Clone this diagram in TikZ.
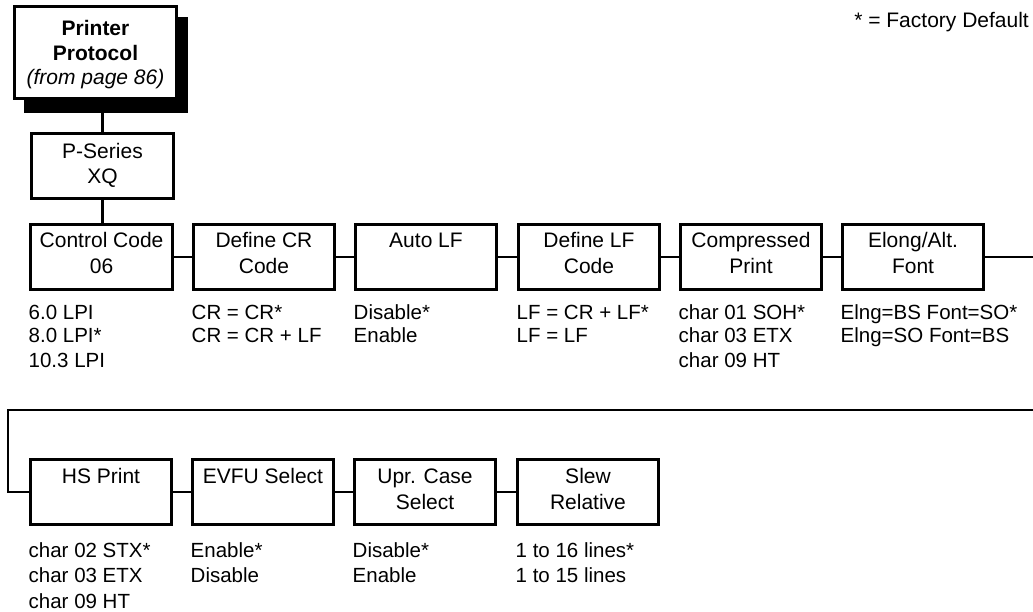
\documentclass[tikz,border=0pt]{standalone}
\usepackage{fontspec}
\setmainfont{Liberation Sans}
\newcommand\stkc[1]{\begin{tabular}[t]{@{}c@{}}#1\end{tabular}}
\newcommand\stkl[1]{\begin{tabular}[t]{@{}l@{}}#1\end{tabular}}
\begin{document}
\begin{tikzpicture}[x=1pt,y=-1pt,
  box/.style={draw, line width=3pt, minimum width=141.5pt, minimum height=65pt, inner sep=0pt},
  link/.style={line width=2.6pt},
  btext/.style={anchor=base, inner sep=0pt, font=\fontsize{21}{25}\selectfont},
  btexttwo/.style={anchor=base, inner sep=0pt, font=\fontsize{21}{26.5}\selectfont},
  opt/.style={anchor=base west, inner sep=0pt, font=\fontsize{20.5}{24}\selectfont},
  opttwo/.style={anchor=base west, inner sep=0pt, font=\fontsize{20.5}{25.5}\selectfont}]
\useasboundingbox (0,0) rectangle (1033,612);

% legend
\node[anchor=base east, inner sep=0pt, font=\fontsize{21}{25}\selectfont] (legend) at (1029,28) {* = Factory Default};

% top box with shadow
\fill[black] (24,17) rectangle (188,113);
\node[box, fill=white, minimum width=162pt, minimum height=92pt] (proto) at (95.5,52.5) {};
\node[anchor=base, inner sep=0pt, font=\fontsize{21}{24.4}\selectfont] (protot) at (95.5,36)
  {\stkc{\bfseries Printer\\\bfseries Protocol\\\itshape (from page 86)}};

% P-Series
\node[box] (ps) at (102.5,166.5) {};
\node[btext] (pst) at (102.5,158.5) {\stkc{P-Series\\XQ}};

% row 1 boxes
\node[box] (cc)  at (101.6,257) {};
\node[box] (dcr) at (264,257) {};
\node[box] (alf) at (426,257) {};
\node[box] (dlf) at (589,257) {};
\node[box] (cp)  at (751,257) {};
\node[box] (el)  at (913,257) {};
\node[btext] (cct)  at (101.6,248) {\stkc{Control Code\\06}};
\node[btext] (dcrt) at (264,248) {\stkc{Define CR\\Code}};
\node[btext] (alft) at (426,248) {\stkc{Auto LF}};
\node[btext] (dlft) at (589,248) {\stkc{Define LF\\Code}};
\node[btext] (cpt)  at (751,248) {\stkc{Compressed\\Print}};
\node[btext] (elt)  at (913,248) {\stkc{Elong/Alt.\\Font}};

% row 1 options
\node[opt] (cco)  at (28.5,319) {\stkl{6.0 LPI\\8.0 LPI*\\10.3 LPI}};
\node[opt] (dcro) at (191.5,319) {\stkl{CR = CR*\\CR = CR + LF}};
\node[opt] (alfo) at (353.5,319) {\stkl{Disable*\\Enable}};
\node[opt] (dlfo) at (516.5,319) {\stkl{LF = CR + LF*\\LF = LF}};
\node[opt] (cpo)  at (678.5,319) {\stkl{char 01 SOH*\\char 03 ETX\\char 09 HT}};
\node[opt] (elo)  at (840.5,319) {\stkl{Elng=BS Font=SO*\\Elng=SO Font=BS}};

% row 2 boxes
\node[box] (hs)  at (101,492) {};
\node[box] (ev)  at (263,492) {};
\node[box] (up)  at (425,492) {};
\node[box] (sl)  at (588,492) {};
\node[btexttwo] (hst) at (101,483) {\stkc{HS Print}};
\node[btexttwo] (evt) at (263,483) {\stkc{EVFU Select}};
\node[btexttwo] (upt) at (425,483) {\stkc{Upr. Case\\Select}};
\node[btexttwo] (slt) at (588,483) {\stkc{Slew\\Relative}};

% row 2 options
\node[opttwo] (hso) at (28.5,557) {\stkl{char 02 STX*\\char 03 ETX\\char 09 HT}};
\node[opttwo] (evo) at (190.5,557) {\stkl{Enable*\\Disable}};
\node[opttwo] (upo) at (352.5,557) {\stkl{Disable*\\Enable}};
\node[opttwo] (slo) at (515.5,557) {\stkl{1 to 16 lines*\\1 to 15 lines}};

% connectors
\coordinate (r1end) at (1033,257);
\coordinate (wr) at (1033,410);
\coordinate (wl) at (8,410);
\draw[link] (ps.north |- proto.south) -- (ps.north);
\draw[link] (ps.south) -- (ps.south |- cc.north);
\draw[link] (cc.east) -- (dcr.west);
\draw[link] (dcr.east) -- (alf.west);
\draw[link] (alf.east) -- (dlf.west);
\draw[link] (dlf.east) -- (cp.west);
\draw[link] (cp.east) -- (el.west);
\draw[link] (el.east) -- (r1end);
\draw[link] (wr) -- (wl) |- (hs.west);
\draw[link] (hs.east) -- (ev.west);
\draw[link] (ev.east) -- (up.west);
\draw[link] (up.east) -- (sl.west);
\end{tikzpicture}
\end{document}
